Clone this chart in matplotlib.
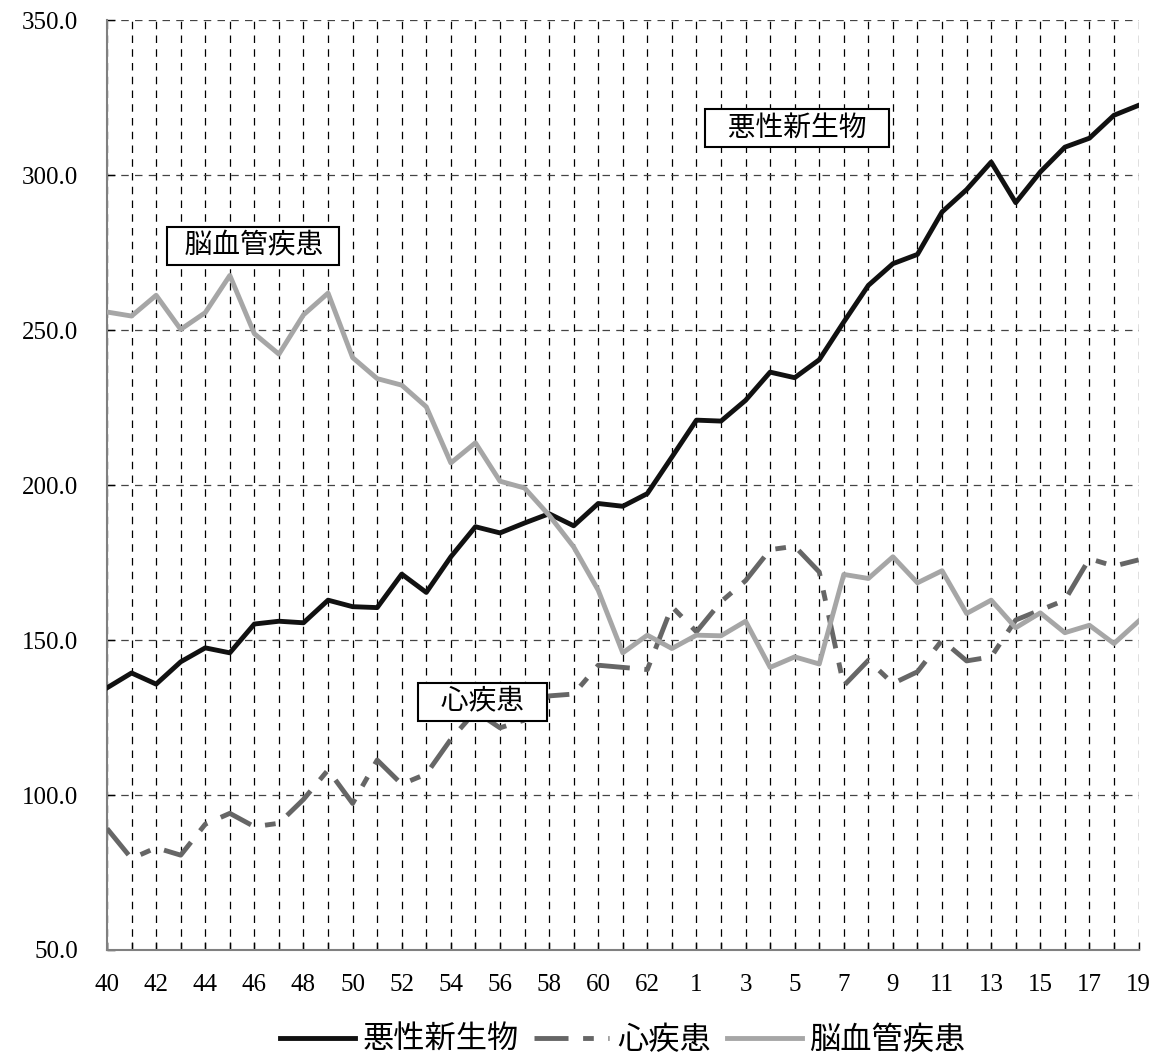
import matplotlib
matplotlib.use("Agg")
import matplotlib.pyplot as plt
from matplotlib.ticker import FuncFormatter

# 年次 (昭和40年～平成19年)
years = [str(y) for y in range(40, 64)] + [str(y) for y in range(1, 20)]

cancer = [134.6, 139.4, 135.8, 143.0, 147.5, 145.9, 155.2, 156.1, 155.6, 162.9,
          160.8, 160.5, 171.3, 165.4, 176.9, 186.6, 184.6, 187.8, 190.8, 186.9,
          194.1, 193.2, 197.3, 209.1, 221.0, 220.7, 227.4, 236.5, 234.7, 240.5,
          252.7, 264.5, 271.5, 274.5, 288.2, 295.4, 304.3, 291.2, 301.1, 309.1,
          312.0, 319.4, 322.6]
heart = [89.2, 79.5, 83.0, 80.6, 90.6, 94.1, 89.8, 90.9, 98.6, 108.1,
         97.3, 111.3, 103.5, 106.8, 118.0, 127.0, 121.7, 124.2, 132.0, 132.6,
         141.9, 141.2, 140.5, 160.8, 152.7, 162.4, 169.2, 179.2, 180.3, 172.0,
         135.3, 143.5, 136.0, 139.8, 150.0, 143.3, 144.6, 156.5, 159.7, 162.9,
         176.3, 173.9, 175.9]
cerebro = [255.9, 254.6, 261.3, 250.3, 255.7, 267.7, 248.9, 242.3, 255.0, 262.0,
           241.2, 234.4, 232.3, 225.3, 207.2, 213.7, 201.3, 199.1, 190.3, 180.1,
           166.1, 145.9, 151.6, 147.3, 151.6, 151.4, 156.1, 141.2, 144.6, 142.3,
           171.2, 169.9, 176.9, 168.5, 172.4, 158.6, 162.9, 154.0, 158.8, 152.4,
           154.8, 148.9, 156.1]

names = ['悪性新生物', '心疾患', '脳血管疾患']

plt.rcParams['font.family'] = ['Liberation Serif', 'Noto Sans CJK JP']

fig = plt.figure(figsize=(11.62, 10.60), dpi=100)
ax = fig.add_axes([0.0921, 0.1038, 0.8877, 0.8769])

x = list(range(len(years)))
ax.plot(x, cancer, color='#111111', lw=3.5, label=names[0], zorder=3)
ax.plot(x, heart, color='#666666', lw=3.5, label=names[1], zorder=3,
        dashes=(7, 3, 2.2, 3))
ax.plot(x, cerebro, color='#a6a6a6', lw=3.5, label=names[2], zorder=3)

ax.set_xlim(0, len(years) - 1)
ax.set_ylim(50, 350)
ax.set_yticks(range(50, 351, 50))
ax.yaxis.set_major_formatter(FuncFormatter(lambda v, p: f'{v:.1f}'))
ax.set_xticks(x)
ax.set_xticklabels([y if i % 2 == 0 else '' for i, y in enumerate(years)])

ax.grid(axis='x', color='black', lw=0.9, ls=(0, (6, 5)), zorder=1)
ax.grid(axis='y', color='#444444', lw=0.9, ls=(0, (6, 5)), zorder=1)

for s in ['top', 'right']:
    ax.spines[s].set_visible(False)
for s in ['left', 'bottom']:
    ax.spines[s].set_color('#808080')
    ax.spines[s].set_linewidth(1.5)

ax.tick_params(axis='x', direction='in', length=6, width=1, color='black',
               labelsize=18, pad=17)
ax.tick_params(axis='y', direction='in', length=6, width=1, color='black',
               labelsize=18, pad=21)

box = dict(boxstyle='square,pad=0.15', fc='white', ec='black', lw=1.5)
ax.text(28.1, 315.3, '   ' + names[0] + '   ', fontsize=20, family='Noto Sans CJK JP',
        ha='center', va='center', bbox=box, zorder=5)
ax.text(15.3, 130.1, '   ' + names[1] + '   ', fontsize=20, family='Noto Sans CJK JP',
        ha='center', va='center', bbox=box, zorder=5)
ax.text(5.96, 277.3, '  ' + names[2] + '  ', fontsize=20, family='Noto Sans CJK JP',
        ha='center', va='center', bbox=box, zorder=5)

ax.legend(loc='center', bbox_to_anchor=(0.5, -0.097), ncol=3, frameon=False,
          prop={'family': 'Noto Sans CJK JP', 'size': 22.5},
          handlelength=2.4, handletextpad=0.25, columnspacing=0.5)

fig.savefig('out.png', dpi=100)
